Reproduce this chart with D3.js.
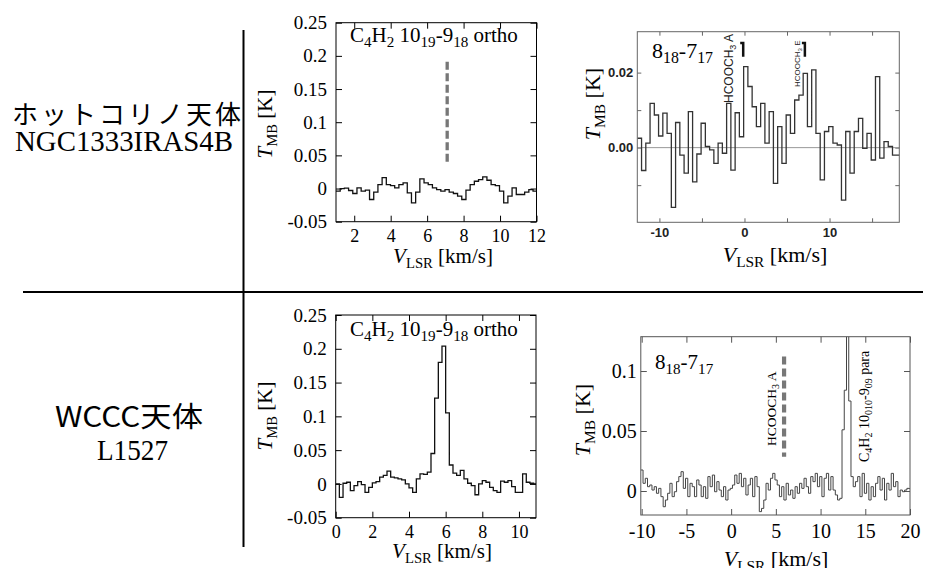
<!DOCTYPE html>
<html>
<head>
<meta charset="utf-8">
<script src="https://cdn.jsdelivr.net/npm/d3@7"></script>
<style>
  body { margin: 0; background: #fff; }
  text { white-space: pre; }
</style>
</head>
<body>
<div id="chart-area"></div>
<script>
// ---- spectra (channel start, channel width, T_MB values in K) ----
var irasC4H2Start = 1.0, irasC4H2Width = 0.23;
var irasC4H2 = [-0.004, 0.000, 0.0005, -0.003, -0.0075, 0.001, -0.004, -0.0025, -0.0165, -0.0055,
  0.006, 0.0165, 0.006, 0.0045, 0.001, 0.006, 0.0085, -0.0065, -0.0215, -0.0055,
  0.0145, 0.0085, 0.006, 0.001, -0.0015, -0.004, -0.0015, -0.0055, -0.0075, -0.0115,
  -0.0165, -0.0025, 0.006, 0.011, 0.0135, 0.0175, 0.0125, 0.006, 0.0045, -0.004,
  -0.0215, -0.0115, 0.001, -0.009, -0.009, -0.0055, -0.0015, -0.004];

var irasHcoochStart = -12.6, irasHcoochWidth = 0.5;
var irasHcooch = [0.0025, -0.0061, 0.0012, 0.0118, 0.0087, 0.0031, 0.0092, 0.0038, -0.0159, 0.0067,
  -0.002, -0.0068, 0.0096, -0.0091, -0.0017, 0.0065, 0.0003, -0.0006, -0.0042, 0.0012,
  -0.0015, 0.0118, -0.006, 0.0093, 0.0029, 0.0216, 0.0163, 0.0109, 0.0056, 0.0118,
  0.0012, 0.0096, -0.0095, 0.0056, -0.0042, 0.0087, 0.0038, 0.0127, 0.014, 0.0198,
  0.0056, 0.0207, 0.0038, -0.0086, 0.0043, 0.0056, 0.0012, 0.0007, -0.014, 0.0043,
  -0.0068, 0.0043, 0.0078, -0.0002, 0.0038, -0.0033, 0.0189, -0.0028, 0.0016, 0.0003, -0.002, -0.002];

var l1527C4H2Start = 0.0, l1527C4H2Width = 0.2;
var l1527C4H2 = [0.000, -0.020, 0.001, 0.0025, -0.010, -0.0025, 0.0035, -0.001, -0.0125, -0.005,
  0.0015, 0.0035, 0.010, 0.0125, 0.019, 0.010, 0.009, 0.0075, 0.006, 0.000,
  -0.006, -0.0125, 0.0075, 0.015, 0.014, 0.0175, 0.045, 0.127, 0.180, 0.204,
  0.105, 0.028, 0.016, 0.0125, 0.020, 0.0075, 0.001, -0.0025, -0.016, 0.000,
  0.005, 0.0025, -0.005, -0.010, -0.0125, 0.004, 0.0025, 0.005, -0.004, -0.0125,
  -0.0125, 0.015, 0.0025, 0.001, 0.000];

var l1527HcoochStart = -10.1, l1527HcoochWidth = 0.25;
var l1527Hcooch = [0.0175, 0.0064, 0.0106, 0.0036, 0.005, 0.0008, 0.0036, -0.0019, 0.0022, -0.0047,
  -0.0131, -0.0075, -0.0019, 0.0064, -0.0047, -0.0006, 0.0078, 0.012, 0.0161, 0.0022,
  0.0106, -0.0047, 0.0064, 0.0036, -0.0047, 0.0092, 0.005, -0.0047, 0.0036, -0.0061,
  0.012, 0.0036, 0.0133, -0.0006, 0.0078, 0.0008, -0.0047, 0.0036, -0.0075, 0.0008,
  0.0022, 0.005, 0.0133, 0.0064, 0.0147, 0.0036, 0.0106, -0.0033, 0.005, 0.0106,
  -0.0047, 0.012, 0.0036, -0.0172, -0.0145, -0.0075, 0.0064, 0.0008, 0.0106, 0.0147,
  0.0092, 0.005, -0.0047, 0.0036, -0.0075, 0.0064, -0.0033, 0.0008, -0.0061, 0.0036,
  -0.0019, 0.0064, 0.0022, 0.0106, 0.0036, -0.0019, 0.012, 0.0078, 0.0147, 0.0036,
  0.012, -0.0047, 0.0106, 0.0147, 0.0008, 0.012, 0.0008, -0.0033, -0.0075, -0.0061,
  0.051, 0.084, 0.14, 0.075, 0.012, 0.0036, 0.0078, 0.012, -0.0047, 0.0147,
  -0.0019, 0.0064, -0.0075, 0.0036, -0.0047, 0.0064, 0.012, 0.0008, 0.0106, -0.0075,
  0.0064, 0.0008, 0.0147, 0.0036, 0.0078, -0.0047, 0.0008, -0.0006, 0.0008, 0.0022, 0.002];

// ---- axis ticks ----
var c4h2YTicks = [-0.05, 0, 0.05, 0.1, 0.15, 0.2, 0.25];
var irasC4H2XTicks = [2, 4, 6, 8, 10, 12];
var l1527C4H2XTicks = [0, 2, 4, 6, 8, 10];
var irasHcoochXTicks = [-10, -5, 0, 5, 10, 15];
var irasHcoochYTicks = [-0.01, 0, 0.01, 0.02];
var l1527HcoochXTicks = [-10, -5, 0, 5, 10, 15, 20];
var l1527HcoochYTicks = [0, 0.05, 0.1];

// ---- line markers (km/s, K) ----
var irasC4H2Mark = { v: 7.1, y0: 0.039, y1: 0.191 };
var l1527HcoochMark = { v: 5.92, y0: 0.0286, y1: 0.112 };
var irasHcoochBrackets = [{ v: -0.15, y0: 0.0242, y1: 0.0279 }, { v: 7.1, y0: 0.0242, y1: 0.0279 }];

var SERIF = "Liberation Serif, DejaVu Serif, serif";
var SANS = "Liberation Sans, Arial, sans-serif";
var CJK = "Noto Sans CJK JP, sans-serif";

var svg = d3.select("#chart-area")
  .append("svg")
  .attr("width", 925)
  .attr("height", 568)
  .style("font-family", SERIF);

// text with subscripts: parts = [[text, sub, italic]]
function rich(t, parts, subSize, shift) {
  var cur = 0;
  parts.forEach(function(p) {
    var off = p[1] ? shift : 0;
    var ts = t.append("tspan").text(p[0]).attr("dy", off - cur);
    if (p[1]) ts.style("font-size", subSize + "px");
    if (p[2]) ts.style("font-style", "italic");
    cur = off;
  });
  return t;
}

function drawPanel(p) {
  var x = d3.scaleLinear().domain(p.xDomain).range([p.left, p.right]);
  var y = d3.scaleLinear().domain(p.yDomain).range([p.bottom, p.top]);
  var g = svg.append("g");

  svg.append("clipPath").attr("id", "clip" + p.id)
    .append("rect")
    .attr("x", p.left).attr("y", p.top)
    .attr("width", p.right - p.left).attr("height", p.bottom - p.top);

  function styleAxis(sel, labelled, size) {
    sel.attr("font-family", null).attr("font-size", null);
    sel.select(".domain").remove();
    sel.selectAll(".tick line").attr("stroke", p.frame).attr("stroke-width", 1);
    sel.selectAll(".tick text")
      .style("font-family", p.tickFont)
      .style("font-size", (size || p.tickSize) + "px")
      .style("font-weight", p.tickWeight || "normal")
      .attr("fill", p.tickColor || "#000");
    if (!labelled) sel.selectAll(".tick text").remove();
  }

  g.append("g").attr("transform", "translate(0," + p.bottom + ")")
    .call(d3.axisBottom(x).tickValues(p.xTicks).tickSize(-p.tick).tickPadding(p.xPad).tickFormat(p.xFormat))
    .call(styleAxis, true, p.xTickSize);
  g.append("g").attr("transform", "translate(0," + p.top + ")")
    .call(d3.axisTop(x).tickValues(p.xTicks).tickSize(-p.tick))
    .call(styleAxis, false);
  g.append("g").attr("transform", "translate(" + p.left + ",0)")
    .call(d3.axisLeft(y).tickValues(p.yTicks).tickSize(-p.tick).tickPadding(p.yPad).tickFormat(p.yFormat))
    .call(styleAxis, true);
  g.append("g").attr("transform", "translate(" + p.right + ",0)")
    .call(d3.axisRight(y).tickValues(p.yTicks).tickSize(-p.tick))
    .call(styleAxis, false);

  if (p.zeroLine) {
    g.append("line")
      .attr("x1", p.left).attr("x2", p.right)
      .attr("y1", y(0)).attr("y2", y(0))
      .attr("stroke", "#999").attr("stroke-width", 1);
  }

  var pts = p.values.map(function(v, i) { return [p.v0 + i * p.dv, v]; });
  pts.push([p.v0 + p.values.length * p.dv, p.values[p.values.length - 1]]);
  var line = d3.line()
    .x(function(d) { return x(d[0]); })
    .y(function(d) { return y(d[1]); })
    .curve(d3.curveStepAfter);
  g.append("path")
    .attr("clip-path", "url(#clip" + p.id + ")")
    .attr("d", line(pts))
    .attr("fill", "none")
    .attr("stroke", p.lineColor)
    .attr("stroke-width", p.lineWidth);

  g.append("rect")
    .attr("x", p.left).attr("y", p.top)
    .attr("width", p.right - p.left).attr("height", p.bottom - p.top)
    .attr("fill", "none").attr("stroke", p.frame).attr("stroke-width", 1);

  // axis titles
  rich(g.append("text")
    .attr("transform", "translate(" + p.yLabel[0] + "," + p.yLabel[1] + ") rotate(-90)")
    .attr("text-anchor", "middle")
    .style("font-family", SERIF).style("font-size", p.labelSize + "px"),
    [["T", false, true], ["MB", true], [" [K]", false]], p.labelSize * 0.7, 5);
  rich(g.append("text")
    .attr("x", p.xLabel[0]).attr("y", p.xLabel[1])
    .attr("text-anchor", "middle")
    .style("font-family", SERIF).style("font-size", p.labelSize + "px"),
    [["V", false, true], ["LSR", true], [" [km/s]", false]], p.labelSize * 0.7, 5);

  if (p.title) {
    rich(g.append("text")
      .attr("x", p.title.x).attr("y", p.title.y)
      .style("font-family", SERIF).style("font-size", p.title.size + "px"),
      p.title.parts, p.title.size * 0.72, 5);
  }
  return { g: g, x: x, y: y };
}

function fmt(d) { return String(+d.toFixed(2)); }

var c4h2Title = [["C"], ["4", true], ["H"], ["2", true], [" 10"], ["19", true], ["-9"], ["18", true], [" ortho"]];
var transTitle = [["8"], ["18", true], ["-7"], ["17", true]];

// ---- top-left: NGC1333 IRAS4B C4H2 ----
var p1 = drawPanel({
  id: 1, left: 336, right: 536.5, top: 22.7, bottom: 221.7,
  xDomain: [1, 12], yDomain: [-0.05, 0.25],
  xTicks: irasC4H2XTicks, yTicks: c4h2YTicks, xFormat: fmt, yFormat: fmt,
  tick: 6, xPad: 8, yPad: 9,
  tickFont: SERIF, tickSize: 19, xTickSize: 18, frame: "#000",
  values: irasC4H2, v0: irasC4H2Start, dv: irasC4H2Width,
  lineColor: "#111", lineWidth: 1.3,
  labelSize: 21, yLabel: [272, 124], xLabel: [443, 263],
  title: { x: 350, y: 42, size: 21, parts: c4h2Title }
});
p1.g.append("line")
  .attr("x1", p1.x(irasC4H2Mark.v)).attr("x2", p1.x(irasC4H2Mark.v))
  .attr("y1", p1.y(irasC4H2Mark.y1)).attr("y2", p1.y(irasC4H2Mark.y0))
  .attr("stroke", "#777").attr("stroke-width", 3.3).attr("stroke-dasharray", "8,3.5");

// ---- bottom-left: L1527 C4H2 ----
drawPanel({
  id: 3, left: 335.7, right: 536, top: 315, bottom: 517.7,
  xDomain: [0, 10.93], yDomain: [-0.05, 0.25],
  xTicks: l1527C4H2XTicks, yTicks: c4h2YTicks, xFormat: fmt, yFormat: fmt,
  tick: 6, xPad: 8, yPad: 9,
  tickFont: SERIF, tickSize: 19, xTickSize: 18, frame: "#000",
  values: l1527C4H2, v0: l1527C4H2Start, dv: l1527C4H2Width,
  lineColor: "#111", lineWidth: 1.3,
  labelSize: 21, yLabel: [272, 416], xLabel: [442, 558],
  title: { x: 350, y: 336, size: 21, parts: c4h2Title }
});

// ---- top-right: NGC1333 IRAS4B HCOOCH3 ----
var p2 = drawPanel({
  id: 2, left: 637.3, right: 899.3, top: 31.7, bottom: 222.3,
  xDomain: [-12.6, 18.2], yDomain: [-0.0199, 0.0309],
  xTicks: irasHcoochXTicks, yTicks: irasHcoochYTicks,
  xFormat: function(d) { return d % 10 === 0 ? String(d) : ""; },
  yFormat: function(d) { return Math.abs(d - 0.02) < 1e-9 || d === 0 ? d.toFixed(2) : ""; },
  tick: 4, xPad: 5, yPad: 4,
  tickFont: SANS, tickSize: 13, tickWeight: "bold", tickColor: "#222", frame: "#666",
  values: irasHcooch, v0: irasHcoochStart, dv: irasHcoochWidth,
  lineColor: "#333", lineWidth: 1.3, zeroLine: true,
  labelSize: 22, yLabel: [600, 104], xLabel: [775, 262],
  title: { x: 652, y: 58, size: 22, parts: transTitle }
});
irasHcoochBrackets.forEach(function(b) {
  var bx = p2.x(b.v);
  p2.g.append("path")
    .attr("d", "M" + (bx - 3) + "," + p2.y(b.y1) + "H" + bx + "V" + p2.y(b.y0))
    .attr("fill", "none").attr("stroke", "#111").attr("stroke-width", 2.5);
});
rich(p2.g.append("text")
  .attr("transform", "translate(733,103) rotate(-90)")
  .style("font-family", SANS).style("font-size", "12px").attr("fill", "#222"),
  [["HCOOCH"], ["3", true], [" A"]], 9, 3);
rich(p2.g.append("text")
  .attr("transform", "translate(800,87) rotate(-90)")
  .style("font-family", SANS).style("font-size", "8px").attr("fill", "#222"),
  [["HCOOCH"], ["3", true], [" E"]], 6, 2);

// ---- bottom-right: L1527 HCOOCH3 ----
var p4 = drawPanel({
  id: 4, left: 640.8, right: 910, top: 336.7, bottom: 515,
  xDomain: [-10.1, 20], yDomain: [-0.02, 0.1286],
  xTicks: l1527HcoochXTicks, yTicks: l1527HcoochYTicks, xFormat: fmt, yFormat: fmt,
  tick: 6, xPad: 9, yPad: 4,
  tickFont: SERIF, tickSize: 20, frame: "#555",
  values: l1527Hcooch, v0: l1527HcoochStart, dv: l1527HcoochWidth,
  lineColor: "#444", lineWidth: 1,
  labelSize: 22, yLabel: [590, 420], xLabel: [776, 566],
  title: { x: 655, y: 369, size: 21, parts: transTitle }
});
p4.g.append("line")
  .attr("x1", p4.x(l1527HcoochMark.v)).attr("x2", p4.x(l1527HcoochMark.v))
  .attr("y1", p4.y(l1527HcoochMark.y1)).attr("y2", p4.y(l1527HcoochMark.y0))
  .attr("stroke", "#777").attr("stroke-width", 4.2).attr("stroke-dasharray", "8,4");
rich(p4.g.append("text")
  .attr("transform", "translate(776,446) rotate(-90)")
  .style("font-family", SERIF).style("font-size", "13.5px"),
  [["HCOOCH"], ["3", true], [" A"]], 10, 3);
rich(p4.g.append("text")
  .attr("transform", "translate(869,462) rotate(-90)")
  .style("font-family", SERIF).style("font-size", "14px"),
  [["C"], ["4", true], ["H"], ["2", true], [" 10"], ["010", true], ["-9"], ["09", true], [" para"]], 10, 3);

// ---- frame lines and source names ----
svg.append("line").attr("x1", 243.5).attr("x2", 243.5).attr("y1", 30).attr("y2", 547)
  .attr("stroke", "#000").attr("stroke-width", 2);
svg.append("line").attr("x1", 23).attr("x2", 923).attr("y1", 292).attr("y2", 292)
  .attr("stroke", "#000").attr("stroke-width", 2);

svg.append("text").attr("x", 12).attr("y", 124)
  .style("font-family", CJK).style("font-size", "26px")
  .attr("textLength", 229).attr("lengthAdjust", "spacing")
  .text("ホットコリノ天体");
svg.append("text").attr("x", 15).attr("y", 151)
  .style("font-family", SERIF).style("font-size", "30px")
  .attr("textLength", 218).attr("lengthAdjust", "spacingAndGlyphs")
  .text("NGC1333IRAS4B");
svg.append("text").attr("x", 55).attr("y", 427)
  .style("font-family", CJK).style("font-size", "28px")
  .attr("textLength", 148).attr("lengthAdjust", "spacingAndGlyphs")
  .text("WCCC天体");
svg.append("text").attr("x", 97).attr("y", 460)
  .style("font-family", SERIF).style("font-size", "29px")
  .attr("textLength", 71).attr("lengthAdjust", "spacingAndGlyphs")
  .text("L1527");
</script>
</body>
</html>
